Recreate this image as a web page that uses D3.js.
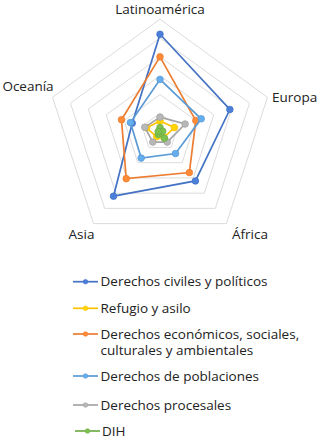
<!DOCTYPE html>
<html><head><meta charset="utf-8">
<script src="https://cdn.jsdelivr.net/npm/d3@7"></script>
<style>body{margin:0;background:#fff}svg{display:block}text{font-family:"Open Sans",sans-serif;fill:#222}</style>
</head><body><svg id="c" width="319" height="442"></svg>
<script>
const regions = ["Latinoamérica","Europa","África","Asia","Oceanía"];
const seriesNames = ["Derechos civiles y políticos","Refugio y asilo","Derechos económicos, sociales,\nculturales y ambientales","Derechos de poblaciones","Derechos procesales","DIH"];
const civiles = [52, 39, 32, 42, 15.5];
const refugio = [6, 8, 3.5, 3, 7.5];
const desca = [40, 20, 26.5, 30.5, 21.5];
const poblaciones = [28, 23, 14, 17, 16.5];
const procesales = [8, 14, 6.5, 6.5, 8.5];
const dih = [2.5, 1.5, 4, 1.5, 1];
const gridTicks = [10,20,30,40,50,60];
const colors = ["#4472C4","#FFC000","#ED7D31","#5B9BD5","#A5A5A5","#70AD47"];
const allSeries = [civiles, refugio, desca, poblaciones, procesales, dih];

const svg = d3.select("#c");
const cx = 160, cy = 132.2, R = 113;
const r = d3.scaleLinear().domain([0,60]).range([0,R]);
const ang = d3.scalePoint().domain(regions).range([0, 2*Math.PI*4/5]);
const pt = (reg, v) => { const a = ang(reg); return [cx + r(v)*Math.sin(a), cy - r(v)*Math.cos(a)]; };

gridTicks.forEach(t => {
  svg.append("path")
    .attr("d", d3.line()(regions.map(g => pt(g, t))) + "Z")
    .attr("fill","none").attr("stroke","#dcdcdc").attr("stroke-width",1);
});

[0,1,2,3,4,5].forEach(i => {
  const vals = allSeries[i];
  const pts = regions.map((g,j) => pt(g, vals[j]));
  const gS = svg.append("g");
  gS.append("path").attr("d", d3.line()(pts) + "Z")
    .attr("fill","none").attr("stroke", colors[i]).attr("stroke-width",1.7);
  gS.selectAll("circle").data(pts).join("circle")
    .attr("cx", d=>d[0]).attr("cy", d=>d[1]).attr("r",3.3)
    .attr("fill", d3.color(colors[i]).brighter(0.3)).attr("stroke", colors[i]).attr("stroke-width",0.8);
});

const lab = [
  {t:"Latinoamérica", x:160, y:14, a:"middle"},
  {t:"Europa", x:272, y:101.5, a:"start"},
  {t:"África", x:250, y:238.5, a:"middle"},
  {t:"Asia", x:81.5, y:238.5, a:"middle"},
  {t:"Oceanía", x:28, y:91, a:"middle"}
];
regions.forEach((g,i) => {
  const L = lab[i];
  svg.append("text").attr("x",L.x).attr("y",L.y).attr("text-anchor",L.a)
    .attr("font-size",13.5).text(g);
});

const legY = [281.7, 308.3, 334, 376, 405, 431];
seriesNames.forEach((n,i) => {
  const y = legY[i];
  const x0 = i===5 ? 75 : 73, x1 = i===5 ? 100 : 98;
  svg.append("line").attr("x1",x0).attr("x2",x1).attr("y1",y).attr("y2",y)
    .attr("stroke",colors[i]).attr("stroke-width",1.7);
  svg.append("circle").attr("cx",(x0+x1)/2).attr("cy",y).attr("r",2.3)
    .attr("fill", d3.color(colors[i]).brighter(0.3)).attr("stroke",colors[i]).attr("stroke-width",0.6);
  const tx = svg.append("text").attr("x", i===5 ? 102 : 100.5).attr("y", y+4.6).attr("font-size",13.5);
  n.split("\n").forEach((line,k) => {
    tx.append("tspan").attr("x", i===5 ? 102 : 100.5).attr("dy", k===0 ? 0 : 16.7).text(line);
  });
});
</script></body></html>
